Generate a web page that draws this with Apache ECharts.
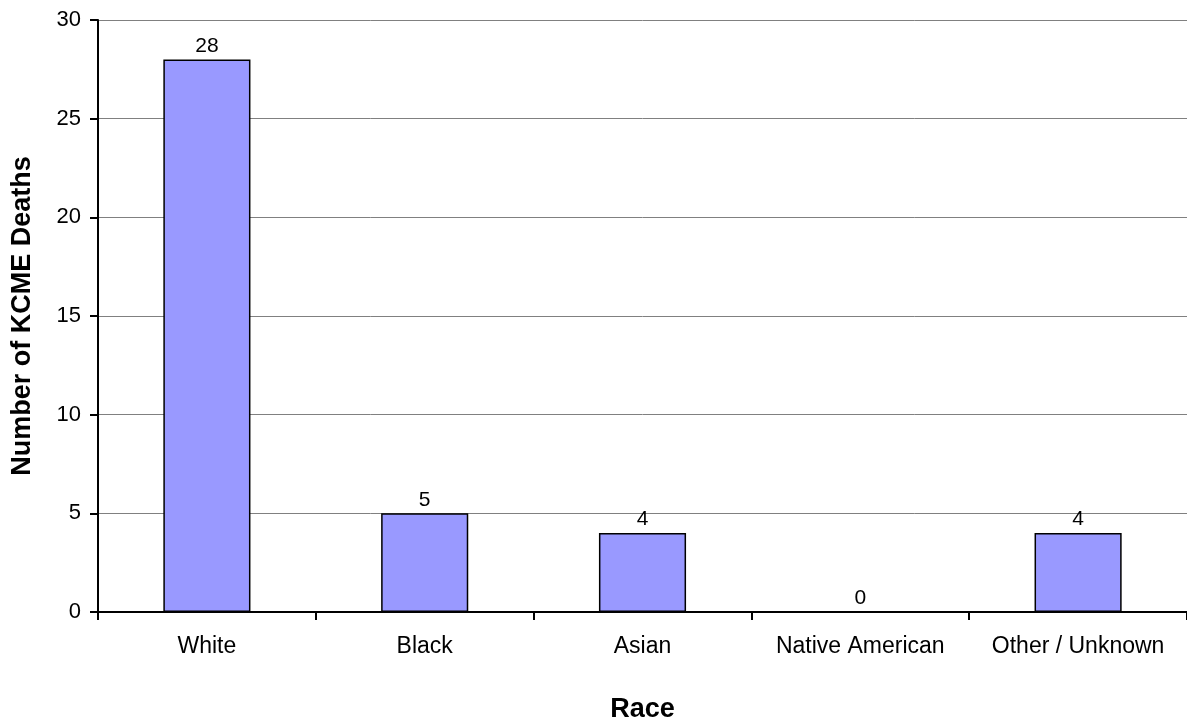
<!DOCTYPE html>
<html>
<head>
<meta charset="utf-8">
<script src="https://cdn.jsdelivr.net/npm/echarts@6/dist/echarts.min.js"></script>
<style>
html,body{margin:0;padding:0;background:#fff;}
#chart{width:1187px;height:728px;}
</style>
</head>
<body>
<div id="chart"></div>
<script>
const categories = ["White", "Black", "Asian", "Native American", "Other / Unknown"];
const deaths = [28, 5, 4, 0, 4];
const yTicks = [0, 5, 10, 15, 20, 25, 30];

const FONT = '"Liberation Sans", Arial, sans-serif';
const chart = echarts.init(document.getElementById('chart'), null, {renderer: 'canvas'});
chart.setOption({
  animation: false,
  backgroundColor: '#ffffff',
  grid: {left: 98, top: 20, width: 1095, height: 608, containLabel: false},
  xAxis: {
    type: 'category',
    data: categories,
    name: 'Race',
    nameLocation: 'middle',
    nameGap: 84,
    nameTextStyle: {fontFamily: FONT, fontSize: 27, fontWeight: 'bold', color: '#000'},
    axisLine: {lineStyle: {color: '#000', width: 2}},
    axisTick: {show: true, interval: 0, length: 8, lineStyle: {color: '#000', width: 2}},
    axisLabel: {interval: 0, hideOverlap: false, fontFamily: FONT, fontSize: 23, color: '#000', margin: 23},
    splitLine: {show: false}
  },
  yAxis: {
    type: 'value',
    min: yTicks[0],
    max: yTicks[yTicks.length - 1],
    interval: 5,
    name: 'Number of KCME Deaths',
    nameLocation: 'middle',
    nameGap: 62,
    nameTextStyle: {fontFamily: FONT, fontSize: 27, fontWeight: 'bold', color: '#000'},
    axisLine: {show: true, lineStyle: {color: '#000', width: 2}},
    axisTick: {show: true, length: 8, lineStyle: {color: '#000', width: 2}},
    axisLabel: {fontFamily: FONT, fontSize: 22, color: '#000', margin: 17},
    splitLine: {show: true, lineStyle: {color: '#808080', width: 1}}
  },
  series: [{
    type: 'bar',
    data: deaths,
    barWidth: '40%',
    itemStyle: {color: '#9999FF', borderColor: '#000', borderWidth: 1.5},
    label: {show: true, position: 'top', distance: 3, fontFamily: FONT, fontSize: 21, color: '#000'}
  }]
});
</script>
</body>
</html>
